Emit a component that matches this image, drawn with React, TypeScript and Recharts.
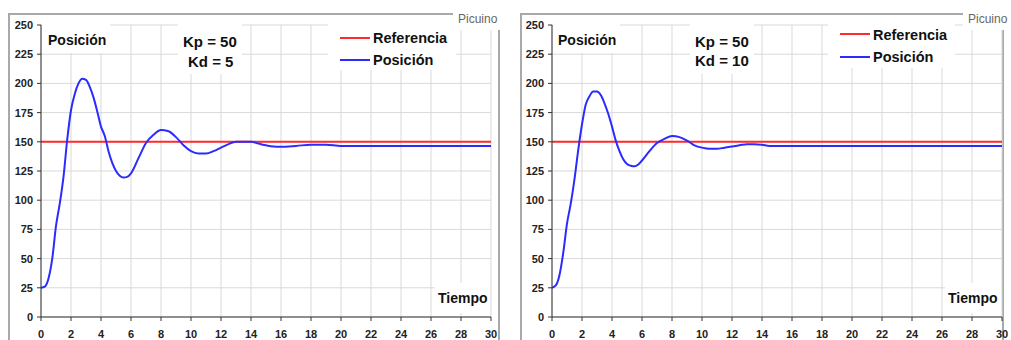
import React from 'react';
import { LineChart, Line, XAxis, YAxis, CartesianGrid } from 'recharts';

// ─── Data ─────────────────────────────

const tiempo = [
  0, 0.25, 0.5, 0.75, 1, 1.25, 1.5, 1.75, 2, 2.25, 2.5, 2.75, 3, 3.25, 3.5, 3.75, 4, 4.25, 4.5, 4.75,
  5, 5.25, 5.5, 5.75, 6, 6.5, 7, 7.5, 8, 8.5, 9, 9.5, 10, 10.5, 11, 11.5, 12, 12.5, 13, 13.5, 14, 14.5,
  15, 15.5, 16, 17, 18, 19, 20, 22, 24, 26, 28, 30,
];

// Kp = 50, Kd = 5
const posicionKd5 = [
  25, 26, 33, 50, 78, 97, 120, 152, 177, 191, 200, 204, 203, 197, 188, 176, 163, 155, 142, 132,
  125, 121, 119.5, 120, 123, 136, 149, 156, 160, 159, 154, 147, 142, 140, 140, 142, 145, 148, 150, 150, 150, 148.5,
  147, 146, 145.8, 146.5, 147.5, 147.5, 146.5, 146.5, 146.5, 146.5, 146.5, 146.5,
];

// Kp = 50, Kd = 10
const posicionKd10 = [
  25, 27, 36, 55, 80, 97, 118, 143, 165, 182, 189, 193, 193, 190, 183, 174, 163, 151, 142, 135,
  131, 129.5, 129, 130.5, 134, 142, 149, 152.5, 155, 154, 151, 147, 145, 144, 144, 145, 146, 147, 148, 148, 147.5, 146.5,
  146.5, 146.5, 146.5, 146.5, 146.5, 146.5, 146.5, 146.5, 146.5, 146.5, 146.5, 146.5,
];

const refTiempo = [0, 30];
const refValor = [150, 150];

const xTicks = [0, 2, 4, 6, 8, 10, 12, 14, 16, 18, 20, 22, 24, 26, 28, 30];
const yTicks = [0, 25, 50, 75, 100, 125, 150, 175, 200, 225, 250];

const FONT = 'Arial, "Liberation Sans", Helvetica, sans-serif';
const FRAME = '#a9a9a9';

const referencia = refTiempo.map((t, i) => ({ t, v: refValor[i] }));

// ─── Helpers ─────────────────────────────

function Txt({ x, cy, size, children, color = '#111', bold = true }: any) {
  return (
    <div
      style={{
        position: 'absolute',
        left: x,
        top: cy - size / 2,
        fontSize: size,
        lineHeight: `${size}px`,
        fontWeight: bold ? 700 : 400,
        color,
        whiteSpace: 'nowrap',
        fontFamily: FONT,
      }}
    >
      {children}
    </div>
  );
}

function Box({ x, y, w, h }: any) {
  return <div style={{ position: 'absolute', left: x, top: y, width: w, height: h, background: '#fff' }} />;
}

function Swatch({ x, y, color }: any) {
  return <div style={{ position: 'absolute', left: x, top: y - 1, width: 30, height: 2, background: color }} />;
}

// ─── Panel ───────────────────────────

interface PanelProps {
  left: number;
  width: number;
  margin: { top: number; right: number; bottom: number; left: number };
  posicion: number[];
}

function Panel({ left, width, margin, posicion }: PanelProps) {
  const data = tiempo.map((t, i) => ({ t, v: posicion[i] }));
  const tick = { fontSize: 11, fontWeight: 700, fill: '#222', fontFamily: FONT };
  return (
    <div style={{ position: 'absolute', left, top: 0, width, height: 340 }}>
      <LineChart width={width} height={340} margin={margin}>
        <CartesianGrid stroke="#d9d9d9" strokeWidth={1} />
        <XAxis
          type="number"
          dataKey="t"
          domain={[0, 30]}
          ticks={xTicks}
          height={20}
          tick={tick}
          tickSize={4}
          tickMargin={9}
          stroke="#333"
          allowDataOverflow
        />
        <YAxis
          type="number"
          domain={[0, 250]}
          ticks={yTicks}
          width={30}
          tick={tick}
          tickSize={4}
          tickMargin={4}
          stroke="#333"
          allowDataOverflow
        />
        <Line
          data={referencia}
          dataKey="v"
          type="linear"
          stroke="#ff2a2a"
          strokeWidth={2}
          dot={false}
          isAnimationActive={false}
        />
        <Line
          data={data}
          dataKey="v"
          type="monotone"
          stroke="#2b2bff"
          strokeWidth={2}
          dot={false}
          isAnimationActive={false}
        />
      </LineChart>
    </div>
  );
}

// ─── App ───────────────────────────

export default function App() {
  return (
    <div
      style={{
        position: 'absolute',
        left: 0,
        top: 0,
        width: 1011,
        height: 340,
        overflow: 'hidden',
        background: '#fff',
        fontFamily: FONT,
      }}
    >
      {/* frames */}
      <div
        style={{
          position: 'absolute', left: 8, top: 13, width: 492, height: 330, boxSizing: 'border-box',
          borderTop: `2px solid ${FRAME}`, borderLeft: `2px solid ${FRAME}`, borderRight: `2px solid ${FRAME}`,
        }}
      />
      <div
        style={{
          position: 'absolute', left: 520, top: 13, width: 484, height: 330, boxSizing: 'border-box',
          borderTop: `2px solid ${FRAME}`, borderLeft: `2px solid ${FRAME}`, borderRight: `2px solid ${FRAME}`,
        }}
      />

      <Panel left={0} width={505} margin={{ top: 25, right: 14, bottom: 3, left: 11 }} posicion={posicionKd5} />
      <Panel left={510} width={501} margin={{ top: 25, right: 9, bottom: 3, left: 12 }} posicion={posicionKd10} />

      {/* left overlays */}
      <Box x={453} y={8} w={52} h={22} />
      <Txt x={458} cy={19} size={12} color="#666" bold={false}>Picuino</Txt>
      <Box x={42} y={24} w={68} h={29} />
      <Txt x={48} cy={39.5} size={14}>Posición</Txt>
      <Box x={178} y={24} w={64} h={50} />
      <Txt x={183} cy={41} size={15}>Kp = 50</Txt>
      <Txt x={188} cy={61} size={15}>Kd = 5</Txt>
      <Box x={328} y={24} w={128} h={46} />
      <Swatch x={340} y={38} color="#ff2a2a" />
      <Txt x={373} cy={38} size={14.5}>Referencia</Txt>
      <Swatch x={340} y={60} color="#2b2bff" />
      <Txt x={373} cy={60} size={14.5}>Posición</Txt>
      <Box x={435} y={283} w={55} h={30} />
      <Txt x={438} cy={298} size={14}>Tiempo</Txt>

      {/* right overlays */}
      <Box x={963} y={8} w={48} h={22} />
      <Txt x={968} cy={19} size={12} color="#666" bold={false}>Picuino</Txt>
      <Box x={553} y={24} w={67} h={29} />
      <Txt x={558} cy={39.5} size={14}>Posición</Txt>
      <Box x={690} y={24} w={64} h={50} />
      <Txt x={695} cy={41} size={15}>Kp = 50</Txt>
      <Txt x={695} cy={60} size={15}>Kd = 10</Txt>
      <Box x={828} y={24} w={127} h={44} />
      <Swatch x={840} y={34} color="#ff2a2a" />
      <Txt x={873} cy={35} size={14.5}>Referencia</Txt>
      <Swatch x={840} y={57} color="#2b2bff" />
      <Txt x={873} cy={57} size={14.5}>Posición</Txt>
      <Box x={945} y={283} w={56} h={30} />
      <Txt x={948} cy={298} size={14}>Tiempo</Txt>
    </div>
  );
}
